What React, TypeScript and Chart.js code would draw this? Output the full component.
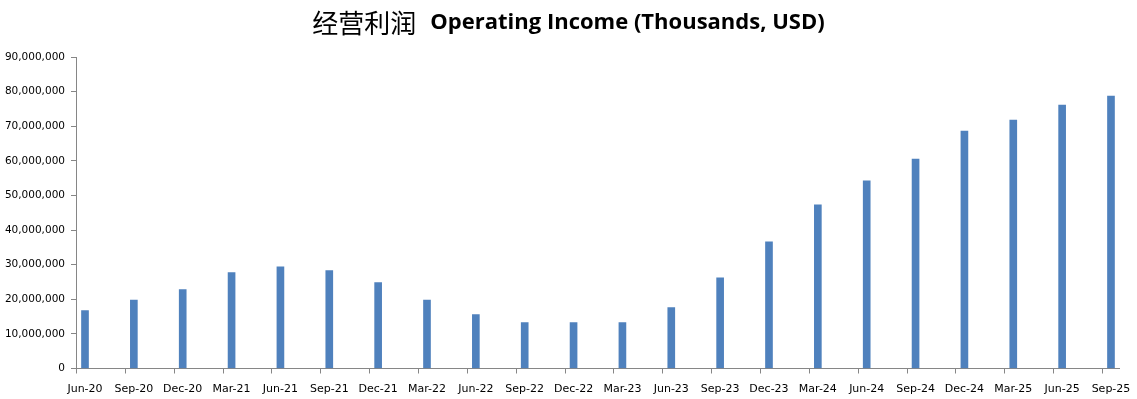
import React, { useEffect, useRef } from "react";
import { Chart, registerables } from "chart.js";

Chart.register(...registerables);

const categories = [
  "Jun-20", "Sep-20", "Dec-20", "Mar-21", "Jun-21", "Sep-21", "Dec-21", "Mar-22",
  "Jun-22", "Sep-22", "Dec-22", "Mar-23", "Jun-23", "Sep-23", "Dec-23", "Mar-24",
  "Jun-24", "Sep-24", "Dec-24", "Mar-25", "Jun-25", "Sep-25",
];

const operatingIncome = [
  16700000, 19800000, 22800000, 27700000, 29400000, 28300000, 24800000, 19800000,
  15600000, 13300000, 13300000, 13300000, 17600000, 26200000, 36600000, 47300000,
  54200000, 60500000, 68600000, 71800000, 76100000, 78700000,
];

const yTicks = [0, 10000000, 20000000, 30000000, 40000000, 50000000, 60000000, 70000000, 80000000, 90000000];

const titleCn = "经营利润";
const titleEn = "Operating Income (Thousands, USD)";

const AXIS = "#868686";
const BAR = "#4F81BD";

export default function App() {
  const ref = useRef<HTMLCanvasElement | null>(null);

  useEffect(() => {
    if (!ref.current) return;

    const titlePlugin = {
      id: "mixedTitle",
      afterDraw(chart: any) {
        const ctx = chart.ctx;
        ctx.save();
        const cnFont = "26px 'Noto Sans CJK SC'";
        const enFont = "bold 22px 'Open Sans'";
        ctx.font = cnFont;
        const wCn = ctx.measureText(titleCn).width;
        ctx.font = enFont;
        const wEn = ctx.measureText(titleEn).width;
        const gap = 14;
        const total = wCn + gap + wEn;
        let x = chart.width / 2 - total / 2;
        const y = 23;
        ctx.textBaseline = "middle";
        ctx.textAlign = "left";
        ctx.fillStyle = "#000";
        ctx.font = cnFont;
        ctx.fillText(titleCn, x, y);
        x += wCn + gap;
        ctx.font = enFont;
        ctx.fillText(titleEn, x, y);
        ctx.restore();
      },
    };

    const xTickPlugin = {
      id: "xTickMarks",
      afterDraw(chart: any) {
        const sx = chart.scales.x;
        const ctx = chart.ctx;
        const y0 = sx.top;
        ctx.save();
        ctx.strokeStyle = AXIS;
        ctx.lineWidth = 1;
        ctx.beginPath();
        categories.forEach((_, i) => {
          const px = Math.round(sx.getPixelForValue(i + sx.min)) + 0.5;
          ctx.moveTo(px, y0);
          ctx.lineTo(px, y0 + 5);
        });
        ctx.stroke();
        ctx.restore();
      },
    };

    const chart = new Chart(ref.current, {
      type: "bar",
      data: {
        datasets: [
          {
            data: operatingIncome.map((v, i) => ({ x: i, y: v })),
            backgroundColor: BAR,
            borderWidth: 0,
            barThickness: 7,
          },
        ],
      },
      options: {
        animation: false,
        responsive: false,
        layout: { padding: { top: 57, right: 18, left: 0, bottom: 0 } },
        plugins: {
          legend: { display: false },
          title: { display: false },
          tooltip: { enabled: false },
        },
        scales: {
          x: {
            type: "linear",
            offset: false,
            min: -0.1842,
            max: 21.164,
            afterBuildTicks: (scale: any) => {
              scale.ticks = categories.map((_, i) => ({ value: i }));
            },
            afterFit: (scale: any) => {
              scale.height = 30.5;
            },
            grid: { display: false, offset: false },
            border: { display: true, color: AXIS, width: 1 },
            ticks: {
              autoSkip: false,
              maxRotation: 0,
              padding: 6,
              color: "#000",
              font: { family: "'DejaVu Sans'", size: 11 },
              callback: (v: any) => categories[v as number] ?? "",
            },
          },
          y: {
            min: 0,
            max: 90000000,
            afterBuildTicks: (scale: any) => {
              scale.ticks = yTicks.map((v) => ({ value: v }));
            },
            afterFit: (scale: any) => {
              scale.width = 76;
            },
            grid: {
              display: true,
              drawOnChartArea: false,
              drawTicks: true,
              tickLength: 5,
              tickColor: AXIS,
            },
            border: { display: true, color: AXIS, width: 1 },
            ticks: {
              padding: 6,
              color: "#000",
              font: { family: "'DejaVu Sans'", size: 10.5 },
              callback: (v: any) => Number(v).toLocaleString("en-US"),
            },
          },
        },
      },
      plugins: [titlePlugin, xTickPlugin],
    } as any);

    return () => chart.destroy();
  }, []);

  return (
    <div style={{ position: "absolute", left: 0, top: 0, width: 1137, height: 399, background: "#fff" }}>
      <canvas ref={ref} width={1137} height={399} style={{ width: 1137, height: 399, display: "block" }} />
    </div>
  );
}
